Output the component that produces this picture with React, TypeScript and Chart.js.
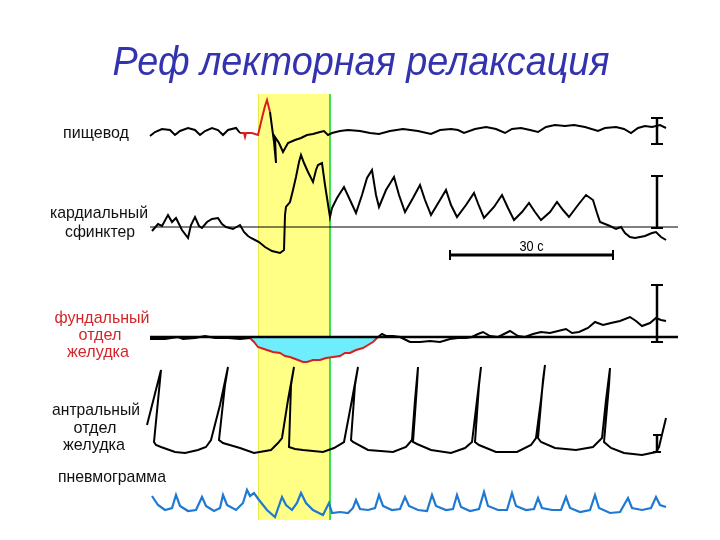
import React, { useEffect, useRef } from "react";
import { Chart, registerables } from "chart.js";

Chart.register(...registerables);

// Time base: samples; the 30 s scale bar spans 163 samples.
const SAMPLES_PER_SECOND = 163 / 30;

// ---- Traces: [sample, amplitude] (amplitude relative to each trace's baseline) ----
const esophagusPre: number[][] = [
  [0, -4], [5, 0], [12, 3], [20, 2], [25, -3], [30, 1], [38, 4], [45, 2], [50, -3], [55, 1],
  [62, 4], [68, 2], [73, -3], [78, 2], [86, 4], [90, -1],
];
const esophagusStim: number[][] = [
  [90, -1], [94, -1], [95, -5], [96, -1], [102, -1], [108, -3], [112, 14], [115, 26], [117, 32], [120, 20],
];
const esophagusPost: number[][] = [
  [120, 20], [124, -10], [126, -31], [125, -5], [129, -11], [133, -20], [138, -11], [145, -8], [151, -6],
  [157, -3], [163, -2], [170, 0], [174, 1], [178, -3], [182, -1], [190, 1], [198, 2], [210, 1], [220, -1],
  [229, -2], [240, 1], [253, 3], [268, 1], [281, -2], [290, 2], [301, 3], [308, 2], [314, -1], [325, 3],
  [336, 5], [346, 3], [355, -1], [362, 3], [371, 4], [380, 2], [388, 0], [396, 5], [405, 7], [415, 6],
  [424, 7], [435, 5], [448, 1], [455, 4], [466, 5], [474, 3], [481, -1], [488, 4], [495, 6], [502, 5],
  [510, 7], [516, 4],
];
const cardiac: number[][] = [
  [2, -4], [8, 3], [12, 1], [18, 12], [22, 5], [26, 9], [32, -3], [38, -11], [41, 2], [45, 10], [49, 1],
  [52, -1], [57, 5], [62, 8], [68, 9], [72, 3], [76, 0], [83, -2], [90, 2], [94, -5], [98, -9], [101, -11],
  [105, -13], [109, -15], [115, -20], [122, -24], [130, -26], [134, -23], [135, 12], [136, 20], [140, 25],
  [143, 37], [146, 50], [149, 65], [151, 72], [154, 64], [158, 55], [163, 45], [166, 57], [168, 62],
  [172, 64], [175, 42], [180, 10], [182, 19], [187, 29], [194, 40], [200, 27], [206, 14], [212, 32],
  [217, 49], [222, 57], [226, 32], [229, 20], [236, 37], [244, 50], [249, 32], [255, 15], [263, 29],
  [270, 42], [275, 27], [281, 12], [290, 27], [296, 37], [301, 22], [307, 10], [316, 22], [324, 34],
  [329, 21], [334, 9], [344, 20], [352, 32], [358, 19], [364, 7], [372, 15], [379, 24], [385, 15], [391, 7],
  [400, 15], [407, 25], [413, 17], [419, 10], [428, 22], [436, 32], [443, 27], [447, 14], [450, 5], [460, 1],
  [466, -2], [471, 0], [475, -6], [480, -10], [485, -11], [495, -9], [502, -6], [506, -5], [511, -10], [516, -13],
];
const fundusPre: number[][] = [
  [0, -2], [15, -2], [28, 0], [33, -2], [45, -1], [55, 1], [65, -1], [78, -1], [90, -2], [100, -1],
];
const fundusRelax: number[][] = [
  [100, -1], [104, -5], [108, -10], [114, -12], [123, -15], [130, -16], [135, -19], [140, -20], [148, -23],
  [153, -25], [157, -25], [163, -23], [170, -23], [176, -21], [183, -20], [190, -19], [195, -16], [200, -16],
  [206, -13], [213, -11], [218, -8], [223, -5], [228, 0],
];
const fundusPost: number[][] = [
  [228, 0], [232, 3], [236, 1], [243, 1], [250, 0], [254, -2], [260, -5], [270, -5], [280, -4], [290, -5],
  [300, -2], [308, -1], [316, -1], [322, 0], [328, 3], [333, 5], [340, 1], [348, 0], [354, 3], [360, 6],
  [368, 1], [375, 0], [383, 3], [391, 5], [400, 4], [408, 6], [416, 8], [422, 4], [429, 5], [438, 9],
  [445, 15], [453, 12], [461, 14], [470, 16], [480, 20], [486, 16], [492, 11], [500, 14], [506, 19],
  [511, 17], [516, 16],
];
const antral: number[][] = [
  [-3, 27], [11, 82], [4, 10], [6, 7], [11, 5], [25, 0], [35, -1], [48, 2], [56, 5], [61, 12], [70, 47],
  [78, 85], [75, 67], [69, 12], [73, 9], [90, 4], [104, -1], [121, 2], [128, 9], [132, 14], [138, 52],
  [144, 85], [141, 67], [139, 5], [145, 3], [153, 2], [173, 0], [184, 4], [194, 10], [201, 47], [208, 85],
  [205, 67], [201, 12], [203, 10], [218, 2], [243, 0], [256, 5], [262, 12], [265, 52], [268, 85], [267, 67],
  [263, 10], [267, 8], [281, 2], [301, -1], [315, 4], [322, 10], [327, 52], [331, 85], [329, 67], [325, 10],
  [329, 7], [346, 0], [367, 0], [381, 7], [386, 14], [391, 52], [395, 87], [393, 72], [388, 14], [391, 10],
  [405, 4], [426, 2], [443, 5], [452, 14], [456, 52], [460, 84], [459, 67], [454, 10], [461, 4], [474, -1],
  [492, -3], [506, 0], [509, 5], [516, 34],
];
const pneumogram: number[][] = [
  [2, 14], [8, 5], [15, 0], [22, 2], [26, 15], [30, 4], [38, -1], [46, 0], [52, 13], [56, 4], [64, -1],
  [70, 2], [73, 15], [77, 5], [86, 0], [93, 7], [97, 20], [100, 14], [104, 17], [109, 10], [117, 0],
  [125, -7], [132, 13], [136, 5], [142, 0], [147, 7], [151, 17], [156, 7], [163, 0], [173, -5], [179, 7],
  [182, -3], [190, -2], [198, -3], [203, 2], [206, 10], [210, 1], [218, 0], [225, 2], [229, 15], [233, 4],
  [242, 0], [250, 1], [255, 13], [259, 4], [268, 0], [277, -1], [282, 15], [286, 4], [296, 0], [303, 1],
  [307, 15], [311, 3], [320, -1], [329, 1], [334, 18], [338, 4], [348, 0], [357, 0], [362, 17], [366, 4],
  [376, 0], [384, 1], [388, 12], [392, 2], [402, 0], [411, 0], [416, 13], [420, 2], [430, -2], [440, 0],
  [445, 15], [449, 2], [460, -3], [470, -2], [478, 12], [482, 2], [492, 0], [501, 2], [506, 13], [510, 5],
  [516, 3],
];

// Reference (zero) lines, calibration bars [low, high] and stimulus window, in samples
const referenceSpan = [0, 528];
const calSample = 507;
const calEsophagus = [-12, 14];
const calCardiac = [-1, 51];
const calFundus = [-5, 52];
const calAntral = [0, 17];
const stimulusWindow = [108, 180];
const scaleBarSamples = [300, 463];
const scaleBarLabel = "30 с";

// Layout (chart units, y up; canvas 540 tall)
const OFFSET = { eso: 408, card: 313, fund: 203, antr: 88, pneu: 30 };

const toPts = (arr: number[][], off: number) =>
  arr.map(([s, a]) => ({ x: s / SAMPLES_PER_SECOND, y: off + a }));
const line = (arr: number[][], off: number, color: string, width = 2, extra: any = {}) => ({
  data: toPts(arr, off),
  borderColor: color,
  borderWidth: width,
  pointRadius: 0,
  showLine: true,
  tension: 0,
  fill: false,
  ...extra,
});

function fitText(ctx: CanvasRenderingContext2D, text: string, cx: number, base: number, width: number, font: string, color: string) {
  ctx.save();
  ctx.font = font;
  ctx.fillStyle = color;
  ctx.textAlign = "center";
  ctx.textBaseline = "alphabetic";
  const w = ctx.measureText(text).width;
  ctx.translate(cx, base);
  ctx.scale(width / w, 1);
  ctx.fillText(text, 0, 0);
  ctx.restore();
}

const decorPlugin = {
  id: "decor",
  beforeDatasetsDraw(chart: any) {
    const { ctx, scales } = chart;
    const xs = scales.x, ys = scales.y;
    const x0 = xs.getPixelForValue(stimulusWindow[0] / SAMPLES_PER_SECOND);
    const x1 = xs.getPixelForValue(stimulusWindow[1] / SAMPLES_PER_SECOND);
    const yTop = ys.getPixelForValue(446);
    const yBot = ys.getPixelForValue(20);
    ctx.save();
    ctx.fillStyle = "#ffff86";
    ctx.fillRect(x0, yTop, x1 - x0, yBot - yTop);
    ctx.strokeStyle = "#e8e84a";
    ctx.lineWidth = 1;
    ctx.beginPath();
    ctx.moveTo(x0 + 0.5, yTop);
    ctx.lineTo(x0 + 0.5, yBot);
    ctx.stroke();
    ctx.strokeStyle = "#3ddc5a";
    ctx.lineWidth = 2;
    ctx.beginPath();
    ctx.moveTo(x1, yTop);
    ctx.lineTo(x1, yBot);
    ctx.stroke();
    ctx.restore();
  },
  afterDatasetsDraw(chart: any) {
    const { ctx, scales } = chart;
    const xs = scales.x, ys = scales.y;
    const cx = xs.getPixelForValue(calSample / SAMPLES_PER_SECOND);
    ctx.save();
    ctx.strokeStyle = "#000";
    const bars: [number[], number, number][] = [
      [calEsophagus, OFFSET.eso, 6],
      [calCardiac, OFFSET.card, 6],
      [calFundus, OFFSET.fund, 6],
      [calAntral, OFFSET.antr, 4],
    ];
    for (const [b, off, sw] of bars) {
      const yl = ys.getPixelForValue(off + b[0]);
      const yh = ys.getPixelForValue(off + b[1]);
      ctx.lineWidth = 2.5;
      ctx.beginPath();
      ctx.moveTo(cx, yl);
      ctx.lineTo(cx, yh);
      ctx.stroke();
      ctx.lineWidth = 2;
      ctx.beginPath();
      ctx.moveTo(cx - sw, yl);
      ctx.lineTo(cx + sw, yl);
      ctx.moveTo(cx - sw, yh);
      ctx.lineTo(cx + sw, yh);
      ctx.stroke();
    }
    // 30 s scale bar
    const sx0 = xs.getPixelForValue(scaleBarSamples[0] / SAMPLES_PER_SECOND);
    const sx1 = xs.getPixelForValue(scaleBarSamples[1] / SAMPLES_PER_SECOND);
    const sy = ys.getPixelForValue(285);
    ctx.lineWidth = 3;
    ctx.beginPath();
    ctx.moveTo(sx0, sy);
    ctx.lineTo(sx1, sy);
    ctx.stroke();
    ctx.lineWidth = 2;
    ctx.beginPath();
    ctx.moveTo(sx0, sy - 5);
    ctx.lineTo(sx0, sy + 5);
    ctx.moveTo(sx1, sy - 5);
    ctx.lineTo(sx1, sy + 5);
    ctx.stroke();
    ctx.restore();
    fitText(ctx, scaleBarLabel, (sx0 + sx1) / 2, sy - 4, 24, '14px "Liberation Sans", Arial, sans-serif', "#000");
  },
  afterDraw(chart: any) {
    const ctx = chart.ctx as CanvasRenderingContext2D;
    fitText(ctx, "Реф лекторная релаксация", 361, 75, 497, 'italic 40px "Liberation Sans", Arial, sans-serif', "#3333b0");
    const f = '17px "Liberation Sans", Arial, sans-serif';
    const black = "#111";
    const red = "#d3262a";
    fitText(ctx, "пищевод", 96, 138, 66, f, black);
    fitText(ctx, "кардиальный", 99, 218, 98, f, black);
    fitText(ctx, "сфинктер", 100, 237, 70, f, black);
    fitText(ctx, "фундальный", 102, 323, 95, f, red);
    fitText(ctx, "отдел", 100, 340, 43, f, red);
    fitText(ctx, "желудка", 98, 357, 62, f, red);
    fitText(ctx, "антральный", 96, 415, 88, f, black);
    fitText(ctx, "отдел", 95, 433, 43, f, black);
    fitText(ctx, "желудка", 94, 450, 62, f, black);
    fitText(ctx, "пневмограмма", 112, 482, 108, f, black);
  },
};

export default function App() {
  const ref = useRef<HTMLCanvasElement | null>(null);
  useEffect(() => {
    if (!ref.current) return;
    const refLine = (off: number, w: number) =>
      line([[referenceSpan[0], 0], [referenceSpan[1], 0]], off, "#000", w);
    const chart = new Chart(ref.current, {
      type: "scatter",
      data: {
        datasets: [
          refLine(OFFSET.fund, 2.5),
          refLine(OFFSET.card, 1),
          line(esophagusPre, OFFSET.eso, "#000", 2),
          line(esophagusStim, OFFSET.eso, "#d81e1e", 2),
          line(esophagusPost, OFFSET.eso, "#000", 2),
          line(cardiac, OFFSET.card, "#000", 2),
          line(fundusPre, OFFSET.fund, "#000", 2),
          line(fundusRelax, OFFSET.fund, "#d81e1e", 2, {
            fill: { value: OFFSET.fund },
            backgroundColor: "#6eeefc",
          }),
          line(fundusPost, OFFSET.fund, "#000", 2),
          line(antral, OFFSET.antr, "#000", 2),
          line(pneumogram, OFFSET.pneu, "#1f78d2", 2.2),
        ] as any,
      },
      options: {
        animation: false,
        responsive: false,
        events: [],
        layout: { padding: 0 },
        plugins: { legend: { display: false }, tooltip: { enabled: false }, title: { display: false } },
        scales: {
          x: { type: "linear", display: false, min: -150 / SAMPLES_PER_SECOND, max: 570 / SAMPLES_PER_SECOND },
          y: { type: "linear", display: false, min: 0, max: 540 },
        },
      },
      plugins: [decorPlugin],
    });
    return () => chart.destroy();
  }, []);
  return (
    <div style={{ position: "fixed", left: 0, top: 0, width: 720, height: 540, background: "#fff" }}>
      <canvas ref={ref} width={720} height={540} />
    </div>
  );
}
